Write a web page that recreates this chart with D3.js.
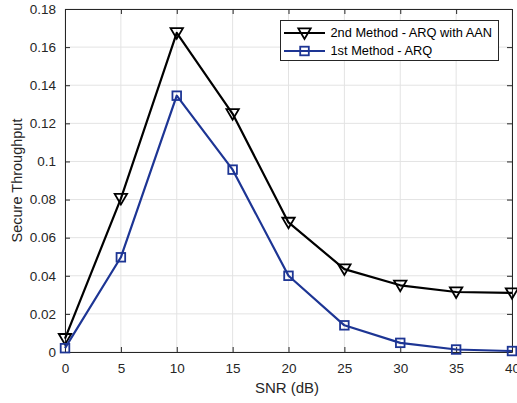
<!DOCTYPE html>
<html>
<head>
<meta charset="utf-8">
<script src="https://cdn.jsdelivr.net/npm/d3@7"></script>
<style>
  html, body { margin: 0; padding: 0; background: #fff; }
  svg { display: block; font-family: "Liberation Sans", Arial, sans-serif; }
</style>
</head>
<body>
<svg id="chart" width="517" height="403"></svg>
<script>
// SNR sweep (dB) and secure throughput for the two schemes
const snr = [0, 5, 10, 15, 20, 25, 30, 35, 40];
const arqAan = [0.007, 0.0805, 0.1675, 0.125, 0.068, 0.0435, 0.035, 0.0315, 0.031];
const arq = [0.002, 0.0497, 0.1345, 0.0957, 0.040, 0.0140, 0.0048, 0.0013, 0.0005];
const xTicks = [0, 5, 10, 15, 20, 25, 30, 35, 40];
const yTicks = [0, 0.02, 0.04, 0.06, 0.08, 0.1, 0.12, 0.14, 0.16, 0.18];
const seriesNames = ["2nd Method - ARQ with AAN", "1st Method - ARQ"];

const svg = d3.select("#chart");
const m = { left: 65, right: 512, top: 9, bottom: 352 };

const x = d3.scaleLinear().domain([0, 40]).range([m.left, m.right]);
const y = d3.scaleLinear().domain([0, 0.18]).range([m.bottom, m.top]);

const axisColor = "#262626";
const gridColor = "#e3e3e3";

// grid
const grid = svg.append("g");
grid.selectAll(".gx").data(xTicks).enter().append("line")
  .attr("x1", d => x(d)).attr("x2", d => x(d))
  .attr("y1", m.top).attr("y2", m.bottom)
  .attr("stroke", gridColor).attr("stroke-width", 1);
grid.selectAll(".gy").data(yTicks).enter().append("line")
  .attr("x1", m.left).attr("x2", m.right)
  .attr("y1", d => y(d)).attr("y2", d => y(d))
  .attr("stroke", gridColor).attr("stroke-width", 1);

// axes (box on all four sides, inward ticks)
const fmtY = d => d === 0 ? "0" : String(+d.toFixed(2));
const xAxis = svg.append("g").attr("transform", `translate(0,${m.bottom})`)
  .call(d3.axisBottom(x).tickValues(xTicks).tickSizeInner(-5).tickSizeOuter(0).tickPadding(11));
const yAxis = svg.append("g").attr("transform", `translate(${m.left},0)`)
  .call(d3.axisLeft(y).tickValues(yTicks).tickFormat(fmtY).tickSizeInner(-5).tickSizeOuter(0).tickPadding(9));
const xTop = svg.append("g").attr("transform", `translate(0,${m.top})`)
  .call(d3.axisTop(x).tickValues(xTicks).tickFormat("").tickSizeInner(-5).tickSizeOuter(0));
const yRight = svg.append("g").attr("transform", `translate(${m.right},0)`)
  .call(d3.axisRight(y).tickValues(yTicks).tickFormat("").tickSizeInner(-5).tickSizeOuter(0));

[xAxis, yAxis, xTop, yRight].forEach(g => {
  g.select(".domain").attr("stroke", axisColor).attr("stroke-width", 1);
  g.selectAll(".tick line").attr("stroke", axisColor);
  g.selectAll(".tick text").attr("fill", axisColor).style("font-size", "13.5px")
    .style("font-family", "'Liberation Sans', Arial, sans-serif");
});
xAxis.selectAll(".tick text").attr("dy", "0.71em");

// axis titles
svg.append("text").attr("x", 287).attr("y", 393)
  .attr("text-anchor", "middle").attr("fill", axisColor)
  .style("font-size", "15px").text("SNR (dB)");
svg.append("text").attr("transform", `translate(22,${(m.top + m.bottom) / 2}) rotate(-90)`)
  .attr("text-anchor", "middle").attr("fill", axisColor)
  .style("font-size", "14.5px").text("Secure Throughput");

const blue = "#1d3594";
const series = [
  { name: seriesNames[0], values: arqAan, color: "#000000", marker: "tri" },
  { name: seriesNames[1], values: arq, color: blue, marker: "sq" }
];

const line = d3.line().x((d, i) => x(snr[i])).y(d => y(d));

function drawMarker(g, type, cx, cy, color) {
  if (type === "tri") {
    const s = 6.2;
    g.append("path")
      .attr("d", `M${cx - s},${cy - s * 0.75} L${cx + s},${cy - s * 0.75} L${cx},${cy + s * 0.95} Z`)
      .attr("fill", "none").attr("stroke", color).attr("stroke-width", 1.8);
  } else {
    const s = 4.3;
    g.append("rect").attr("x", cx - s).attr("y", cy - s)
      .attr("width", 2 * s).attr("height", 2 * s)
      .attr("fill", "none").attr("stroke", color).attr("stroke-width", 1.8);
  }
}

series.forEach(s => {
  const g = svg.append("g");
  g.append("path").datum(s.values).attr("d", line)
    .attr("fill", "none").attr("stroke", s.color).attr("stroke-width", 2.2)
    .attr("stroke-linejoin", "round");
  s.values.forEach((v, i) => drawMarker(g, s.marker, x(snr[i]), y(v), s.color));
});

// legend
const lg = svg.append("g");
lg.append("rect").attr("x", 280.5).attr("y", 20.5).attr("width", 218).attr("height", 40)
  .attr("fill", "#fff").attr("stroke", axisColor).attr("stroke-width", 1);
series.forEach((s, i) => {
  const ly = 33 + i * 18;
  lg.append("line").attr("x1", 284).attr("x2", 325).attr("y1", ly).attr("y2", ly)
    .attr("stroke", s.color).attr("stroke-width", 2.2);
  drawMarker(lg, s.marker, 304.5, ly, s.color);
  lg.append("text").attr("x", 330.5).attr("y", ly).attr("dy", "0.35em")
    .attr("fill", "#000").style("font-size", "12.8px").text(s.name);
});
</script>
</body>
</html>
